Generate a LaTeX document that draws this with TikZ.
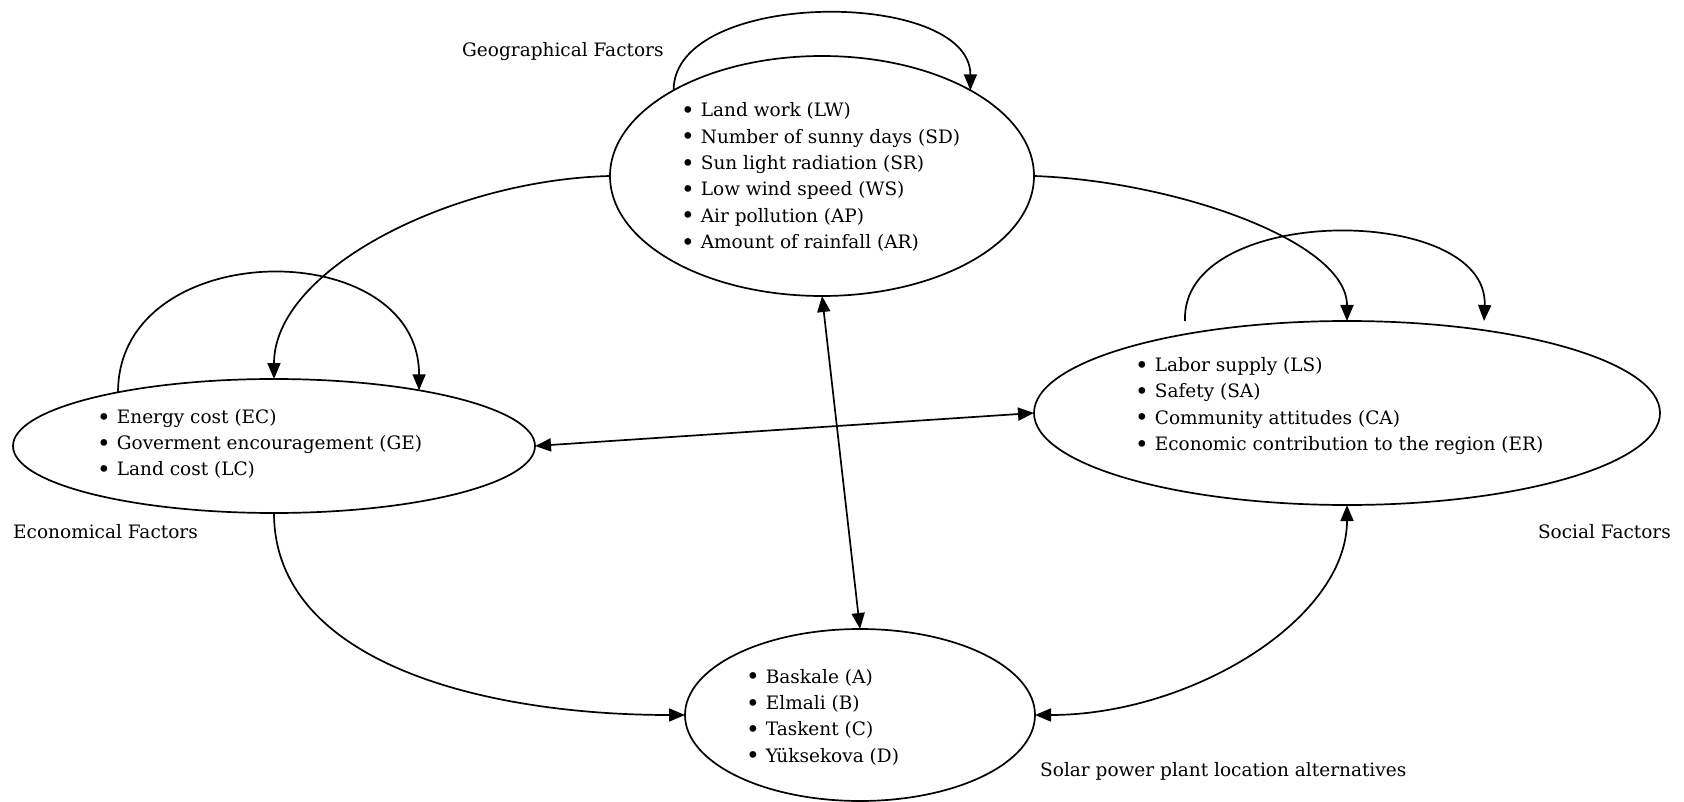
\documentclass[tikz,border=0pt]{standalone}
\usepackage{fontspec}
\setmainfont{DejaVu Serif}
\usetikzlibrary{arrows.meta,shapes.geometric,calc}
\newcommand{\itm}{\raisebox{-1.8pt}{\scalebox{1.25}{\textbullet}}\hspace{6pt}}
\begin{document}
\begin{tikzpicture}[x=1pt,y=-1pt,
  ell/.style={draw,ellipse,line width=1.7pt,inner sep=0pt,outer sep=0pt},
  lst/.style={anchor=west,align=left,inner sep=0pt,font=\fontsize{18.5}{26.3}\selectfont},
  lbl/.style={inner sep=0pt,font=\fontsize{18.5}{22}\selectfont},
  conn/.style={line width=1.7pt,-{Triangle[length=16pt,width=13pt]}},
  conn2/.style={line width=1.7pt,{Triangle[length=16pt,width=13pt]}-{Triangle[length=16pt,width=13pt]}}]
\useasboundingbox (0,0) rectangle (1684,802);
% ellipses
\node[ell,minimum width=424pt,minimum height=240pt] (geo) at (822,176) {};
\node[ell,minimum width=522pt,minimum height=134pt] (econ) at (274,446) {};
\node[ell,minimum width=626pt,minimum height=184pt] (soc) at (1347,413) {};
\node[ell,minimum width=350pt,minimum height=172pt] (alt) at (860,715) {};
% lists
\node[lst] (geol) at (681,177) {\itm Land work (LW)\\ \itm Number of sunny days (SD)\\ \itm Sun light radiation (SR)\\ \itm Low wind speed (WS)\\ \itm Air pollution (AP)\\ \itm Amount of rainfall (AR)};
\node[lst] (econl) at (97,444) {\itm Energy cost (EC)\\ \itm Goverment encouragement (GE)\\ \itm Land cost (LC)};
\node[lst] (socl) at (1135,406) {\itm Labor supply (LS)\\ \itm Safety (SA)\\ \itm Community attitudes (CA)\\ \itm Economic contribution to the region (ER)};
\node[lst] (altl) at (746,717) {\itm Baskale (A)\\ \itm Elmali (B)\\ \itm Taskent (C)\\ \itm Yüksekova (D)};
% labels
\node[lbl,anchor=west] (geot) at (462,52) {Geographical Factors};
\node[lbl,anchor=west] (econt) at (13,532) {Economical Factors};
\node[lbl,anchor=east] (soct) at (1671,532) {Social Factors};
\node[lbl,anchor=west] (altt) at (1040,771) {Solar power plant location alternatives};
% loop ends for social
\coordinate (sl1) at (1185,321);
\coordinate (sl2) at (1484,321);
% connectors
\draw[conn] (geo.150) .. controls +(0,-102) and +(0,-102) .. (geo.30);
\draw[conn] (econ.161) .. controls +(0,-157) and +(0,-157) .. (econ.21);
\draw[conn] (sl1) .. controls +(-5,-118) and +(5,-118) .. (sl2);
\draw[conn] (geo.west) .. controls +(-160,4) and +(0,-109) .. (econ.north);
\draw[conn] (geo.east) .. controls +(140,5) and +(0,-80) .. (soc.north);
\draw[conn2] (econ.east) -- (soc.west);
\draw[conn2] (geo.south) -- (alt.north);
\draw[conn] (econ.south) .. controls +(0,148) and +(-205,0) .. (alt.west);
\draw[conn2] (alt.east) .. controls +(155,0) and +(0,115) .. (soc.south);
\end{tikzpicture}
\end{document}
